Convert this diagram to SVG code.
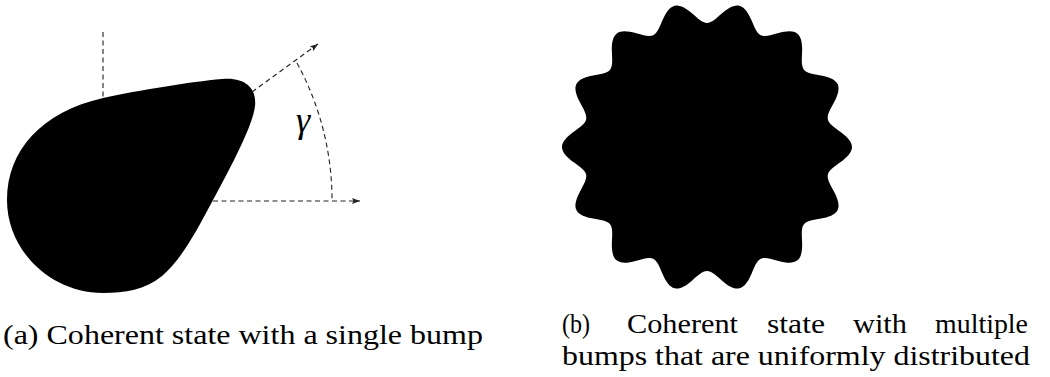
<svg xmlns="http://www.w3.org/2000/svg" xmlns:xlink="http://www.w3.org/1999/xlink" width="1050" height="377" viewBox="0 0 1050 377">
  <style>
    .dash { fill: none; stroke: #222; stroke-width: 1.1; stroke-dasharray: 5 3.5; }
    .cap { font-size: 27px; fill: #000; }
    .sym { font-style: italic; font-size: 36px; fill: #000; }
  </style>
  <defs>
    <marker id="arr" viewBox="0 0 8 6" refX="8" refY="3" markerWidth="8" markerHeight="6" markerUnits="userSpaceOnUse" orient="auto">
      <path d="M0,0 L8,3 L0,6 L1.5,3 Z" fill="#222"/>
    </marker>
    <path id="bump" d="M0,0 L116.44,-29.03 L120.89,-27.59 C121.92,-23.07 127.62,-19.44 133.65,-15.06 C139.68,-10.68 145,-5.42 145,0 C145,5.42 139.68,10.68 133.65,15.06 C127.62,19.44 121.92,23.07 120.89,27.59 L116.44,29.03 Z" fill="#000"/>
  </defs>
  <rect width="1050" height="377" fill="#fff"/>

  <g id="single-bump">
    <path d="M7,200 C7,150 42,112 103,98 C140,90 190,82 222,79 C245,77 257,88 255,106 C253,125 232,165 213,200 C196,232 181,260 162,276 C145,290 125,293 103,293 C51,293 7,251 7,200 Z" fill="#000"/>
  </g>

  <g id="connectors">
    <line class="dash" x1="103" y1="32" x2="103" y2="98"/>
    <line class="dash" x1="213" y1="201" x2="360" y2="201" marker-end="url(#arr)"/>
    <line class="dash" x1="252" y1="92" x2="318" y2="44" marker-end="url(#arr)"/>
    <path class="dash" d="M297,63 A286,286 0 0 1 332,201"/>
  </g>

  <g id="gamma-label">
    <text class="sym" font-family="'Liberation Serif', 'Times New Roman', serif" x="296" y="132">γ</text>
  </g>

  <g id="multi-bump" transform="translate(707,147)">
    <circle r="122" fill="#000"/>
    <use xlink:href="#bump" href="#bump"/>
    <use xlink:href="#bump" href="#bump" transform="rotate(25.714)"/>
    <use xlink:href="#bump" href="#bump" transform="rotate(51.429)"/>
    <use xlink:href="#bump" href="#bump" transform="rotate(77.143)"/>
    <use xlink:href="#bump" href="#bump" transform="rotate(102.857)"/>
    <use xlink:href="#bump" href="#bump" transform="rotate(128.571)"/>
    <use xlink:href="#bump" href="#bump" transform="rotate(154.286)"/>
    <use xlink:href="#bump" href="#bump" transform="rotate(180)"/>
    <use xlink:href="#bump" href="#bump" transform="rotate(205.714)"/>
    <use xlink:href="#bump" href="#bump" transform="rotate(231.429)"/>
    <use xlink:href="#bump" href="#bump" transform="rotate(257.143)"/>
    <use xlink:href="#bump" href="#bump" transform="rotate(282.857)"/>
    <use xlink:href="#bump" href="#bump" transform="rotate(308.571)"/>
    <use xlink:href="#bump" href="#bump" transform="rotate(334.286)"/>
  </g>

  <g id="caption-a" font-family="'Liberation Serif', 'Times New Roman', serif">
    <text class="cap" x="3" y="344" textLength="480" lengthAdjust="spacingAndGlyphs">(a) Coherent state with a single bump</text>
  </g>

  <g id="caption-b" font-family="'Liberation Serif', 'Times New Roman', serif">
    <text class="cap" x="562" y="333" textLength="28" lengthAdjust="spacingAndGlyphs">(b)</text>
    <text class="cap" x="627" y="333" textLength="111" lengthAdjust="spacingAndGlyphs">Coherent</text>
    <text class="cap" x="767" y="333" textLength="58" lengthAdjust="spacingAndGlyphs">state</text>
    <text class="cap" x="853" y="333" textLength="54" lengthAdjust="spacingAndGlyphs">with</text>
    <text class="cap" x="935" y="333" textLength="93" lengthAdjust="spacingAndGlyphs">multiple</text>
    <text class="cap" x="562" y="365" textLength="468" lengthAdjust="spacingAndGlyphs">bumps that are uniformly distributed</text>
  </g>
</svg>
